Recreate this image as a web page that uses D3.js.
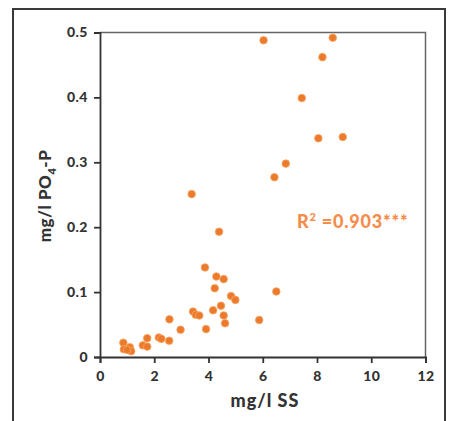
<!DOCTYPE html>
<html>
<head>
<meta charset="utf-8">
<script src="https://cdn.jsdelivr.net/npm/d3@7"></script>
<style>
  body { margin: 0; background: #fff; }
  svg { display: block; }
  .tick text { font-family: Lato, "DejaVu Sans", sans-serif; font-weight: 900; font-size: 14px; fill: #333; letter-spacing: 0.5px; }
</style>
</head>
<body>
<svg id="chart" width="451" height="421"></svg>
<script>
// suspended solids (mg/l)
const ssValues = [6.03, 8.58, 8.2, 7.44, 8.05, 8.95, 6.85, 6.43, 3.38, 4.39,
                  3.87, 4.29, 4.56, 4.23, 4.83, 4.99, 5.87, 6.5, 4.46, 4.17,
                  4.56, 4.61, 3.43, 3.53, 3.66, 3.91, 2.97, 2.56, 2.55, 2.17,
                  2.26, 1.74, 1.58, 1.74, 0.86, 0.88, 1.1, 1.15, 1.0];
// phosphate (mg/l PO4-P)
const po4Values = [0.488, 0.492, 0.462, 0.399, 0.337, 0.339, 0.298, 0.277, 0.251, 0.193,
                   0.138, 0.124, 0.12, 0.106, 0.094, 0.088, 0.057, 0.101, 0.079, 0.072,
                   0.064, 0.052, 0.07, 0.065, 0.064, 0.043, 0.042, 0.058, 0.025, 0.03,
                   0.028, 0.029, 0.018, 0.016, 0.022, 0.012, 0.015, 0.009, 0.011];
const xTicks = [0, 2, 4, 6, 8, 10, 12];
const yTicks = [0, 0.1, 0.2, 0.3, 0.4, 0.5];

const svg = d3.select('#chart');
const plot = { left: 100, top: 32.5, right: 425.5, bottom: 357 };

// outer frame
svg.append('rect')
  .attr('x', 13).attr('y', 9)
  .attr('width', 432).attr('height', 430)
  .attr('fill', '#fff')
  .attr('stroke', '#3a3a3a')
  .attr('stroke-width', 2);

const x = d3.scaleLinear().domain([0, 12]).range([plot.left, plot.right]);
const y = d3.scaleLinear().domain([0, 0.5]).range([plot.bottom, plot.top]);

// top and right frame lines
svg.append('path')
  .attr('d', `M${plot.left},${plot.top}H${plot.right}V${plot.bottom}`)
  .attr('fill', 'none')
  .attr('stroke', '#666')
  .attr('stroke-width', 1.5);

const xAxis = svg.append('g')
  .attr('transform', `translate(0,${plot.bottom})`)
  .call(d3.axisBottom(x).tickValues(xTicks).tickSize(6).tickPadding(6).tickFormat(d3.format('d')));

const yAxis = svg.append('g')
  .attr('transform', `translate(${plot.left},0)`)
  .call(d3.axisLeft(y).tickValues(yTicks).tickSize(6).tickPadding(6).tickFormat(d => d === 0 ? '0' : d3.format('.1f')(d)));

[xAxis, yAxis].forEach(a => {
  a.select('.domain').attr('stroke', '#333').attr('stroke-width', 1.8);
  a.selectAll('.tick line').attr('stroke', '#333').attr('stroke-width', 1.8);
});
xAxis.selectAll('.tick text').attr('dy', '0.85em');

// points
svg.append('g')
  .selectAll('circle')
  .data(ssValues.map((v, i) => [v, po4Values[i]]))
  .join('circle')
  .attr('cx', d => x(d[0]))
  .attr('cy', d => y(d[1]))
  .attr('r', 3.8)
  .attr('fill', '#ec7a2c')
  .attr('stroke', '#f6a55f')
  .attr('stroke-width', 0.8);

// axis titles
const titleFont = 'Lato, "DejaVu Sans", sans-serif';
svg.append('text')
  .attr('x', 265)
  .attr('y', 407)
  .attr('text-anchor', 'middle')
  .style('font-family', titleFont)
  .style('font-weight', '900')
  .style('font-size', '18px')
  .style('letter-spacing', '1px')
  .attr('fill', '#333')
  .text('mg/l SS');

const yt = svg.append('text')
  .attr('transform', `translate(51,196) rotate(-90)`)
  .attr('text-anchor', 'middle')
  .style('font-family', titleFont)
  .style('font-weight', '900')
  .style('font-size', '17px')
  .style('letter-spacing', '0.5px')
  .attr('fill', '#333');
yt.append('tspan').text('mg/l PO');
yt.append('tspan').attr('dy', 5).style('font-size', '11px').text('4');
yt.append('tspan').attr('dy', -5).text('-P');

// R squared annotation
const r2 = svg.append('text')
  .attr('x', 297)
  .attr('y', 228)
  .style('font-family', titleFont)
  .style('font-weight', '900')
  .style('font-size', '18px')
  .style('letter-spacing', '0.8px')
  .attr('fill', '#f68c4a');
r2.append('tspan').text('R');
r2.append('tspan').attr('dy', -7).style('font-size', '11px').text('2');
r2.append('tspan').attr('dy', 7).text(' =0.903***');
</script>
</body>
</html>
